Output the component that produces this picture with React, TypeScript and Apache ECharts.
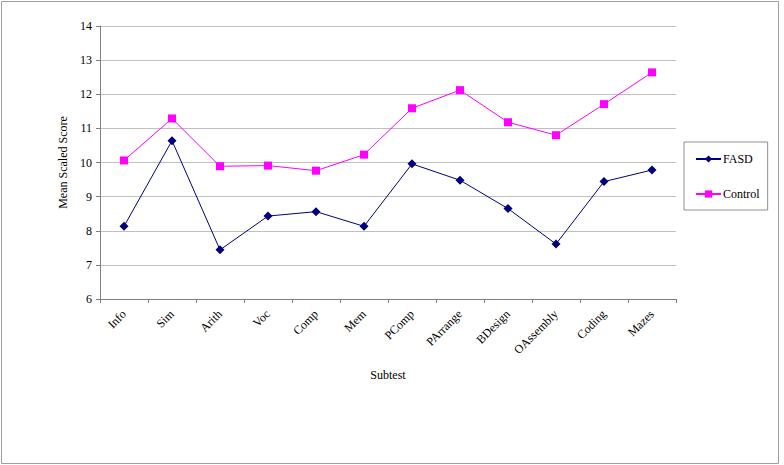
import React, { useEffect, useRef } from "react";
import * as echarts from "echarts";

const categories = ["Info", "Sim", "Arith", "Voc", "Comp", "Mem", "PComp", "PArrange", "BDesign", "OAssembly", "Coding", "Mazes"];
const fasd = [8.13, 10.64, 7.44, 8.43, 8.56, 8.13, 9.96, 9.48, 8.65, 7.61, 9.44, 9.78];
const control = [10.06, 11.29, 9.89, 9.91, 9.76, 10.23, 11.59, 12.12, 11.18, 10.8, 11.71, 12.64];

const FONT = "Liberation Serif";

export default function App() {
  const ref = useRef<HTMLDivElement>(null);
  useEffect(() => {
    document.body.style.margin = "0";
    const chart = echarts.init(ref.current!, null, { renderer: "svg" });
    chart.setOption({
      animation: false,
      backgroundColor: "#ffffff",
      textStyle: { fontFamily: FONT, color: "#000" },
      graphic: [
        {
          type: "rect",
          shape: { x: 1.5, y: 1.5, width: 777, height: 462 },
          style: { fill: "none", stroke: "#a0a0a0", lineWidth: 1 },
          silent: true,
          z: -1,
        },
      ],
      grid: { left: 100, top: 26, right: 108, bottom: 166, containLabel: false },
      legend: {
        orient: "vertical",
        left: 684,
        top: 142,
        padding: [11, 8, 10, 11],
        itemGap: 23,
        itemWidth: 25,
        itemHeight: 9,
        borderColor: "#909090",
        borderWidth: 1,
        textStyle: { fontFamily: FONT, fontSize: 12, color: "#000", padding: [0, 0, 0, -3] },
        data: ["FASD", "Control"],
      },
      xAxis: {
        type: "category",
        data: categories,
        boundaryGap: true,
        name: "Subtest",
        nameLocation: "middle",
        nameGap: 70,
        nameTextStyle: { fontFamily: FONT, fontSize: 12, color: "#000" },
        axisLine: { lineStyle: { color: "#808080", width: 1 } },
        axisTick: { show: true, length: 4, inside: false, lineStyle: { color: "#808080" } },
        axisLabel: { rotate: 45, margin: 13, fontFamily: FONT, fontSize: 12, color: "#000", interval: 0 },
        splitLine: { show: false },
      },
      yAxis: {
        type: "value",
        min: 6,
        max: 14,
        interval: 1,
        name: "Mean Scaled Score",
        nameLocation: "middle",
        nameGap: 25,
        nameTextStyle: { fontFamily: FONT, fontSize: 12, color: "#000" },
        axisLine: { show: true, lineStyle: { color: "#808080", width: 1 } },
        axisTick: { show: true, length: 4, lineStyle: { color: "#808080" } },
        axisLabel: { margin: 8, fontFamily: FONT, fontSize: 12, color: "#000" },
        splitLine: { show: true, lineStyle: { color: "#c0c0c0", width: 1 } },
      },
      series: [
        {
          name: "FASD",
          type: "line",
          data: fasd,
          symbol: "diamond",
          symbolSize: 9,
          lineStyle: { color: "#000080", width: 1 },
          itemStyle: { color: "#000080" },
        },
        {
          name: "Control",
          type: "line",
          data: control,
          symbol: "rect",
          symbolSize: 8,
          lineStyle: { color: "#ff00ff", width: 1 },
          itemStyle: { color: "#ff00ff" },
        },
      ],
    });
    return () => chart.dispose();
  }, []);
  return <div ref={ref} style={{ width: 784, height: 465 }} />;
}
